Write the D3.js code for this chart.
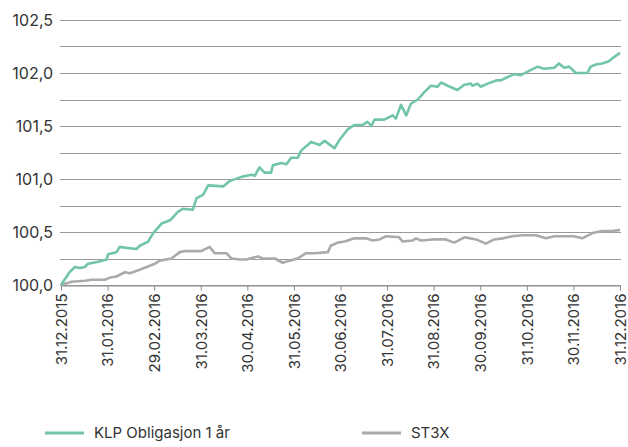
<!DOCTYPE html>
<html>
<head>
<meta charset="utf-8">
<script src="https://cdn.jsdelivr.net/npm/d3@7"></script>
<style>
  body { margin: 0; background: #fff; }
  text { font-family: Inter, "Open Sans", sans-serif; }
</style>
</head>
<body>
<div id="chart"></div>
<script>
// month ends shown on the x axis
var tickLabels = ["31.12.2015", "31.01.2016", "29.02.2016", "31.03.2016", "30.04.2016", "31.05.2016",
  "30.06.2016", "31.07.2016", "31.08.2016", "30.09.2016", "31.10.2016", "30.11.2016", "31.12.2016"];
var yTicks = [100.0, 100.5, 101.0, 101.5, 102.0, 102.5];
var seriesNames = ["KLP Obligasjon 1 år", "ST3X"];

// months since 31.12.2015 and index values
var klpMonths = [0, 0.19, 0.30, 0.41, 0.51, 0.58, 0.80, 0.98, 1.01, 1.19, 1.26, 1.41, 1.62, 1.69, 1.87, 1.98,
  2.16, 2.34, 2.51, 2.62, 2.83, 2.91, 3.05, 3.16, 3.48, 3.62, 3.87, 4.09, 4.16, 4.26, 4.37, 4.51, 4.55,
  4.73, 4.84, 4.94, 5.08, 5.16, 5.37, 5.55, 5.66, 5.87, 5.98, 6.16, 6.30, 6.48, 6.58, 6.66, 6.73, 6.94,
  7.12, 7.19, 7.30, 7.41, 7.51, 7.66, 7.80, 7.94, 8.08, 8.16, 8.30, 8.51, 8.66, 8.80, 8.83, 8.94, 9.01,
  9.16, 9.34, 9.44, 9.58, 9.73, 9.87, 10.05, 10.23, 10.37, 10.59, 10.69, 10.80, 10.91, 11.05, 11.16,
  11.30, 11.37, 11.48, 11.62, 11.76, 11.87, 12];
var klpValues = [100.0, 100.125, 100.17, 100.16, 100.17, 100.2, 100.22, 100.24, 100.29, 100.31, 100.36, 100.35,
  100.34, 100.37, 100.41, 100.49, 100.58, 100.61, 100.69, 100.72, 100.71, 100.82, 100.85, 100.94, 100.93,
  100.98, 101.02, 101.04, 101.03, 101.11, 101.06, 101.06, 101.13, 101.15, 101.14, 101.20, 101.20, 101.27,
  101.35, 101.32, 101.36, 101.29, 101.37, 101.47, 101.51, 101.51, 101.54, 101.50, 101.56, 101.56, 101.60,
  101.57, 101.70, 101.60, 101.71, 101.75, 101.82, 101.88, 101.87, 101.91, 101.88, 101.84, 101.89, 101.90,
  101.88, 101.90, 101.87, 101.90, 101.93, 101.93, 101.96, 101.99, 101.98, 102.02, 102.06, 102.04, 102.05,
  102.09, 102.05, 102.06, 102.00, 102.00, 102.00, 102.06, 102.08, 102.09, 102.11, 102.15, 102.19];

var st3xMonths = [0, 0.23, 0.51, 0.66, 0.94, 1.05, 1.19, 1.37, 1.48, 1.66, 1.84, 2.01, 2.12, 2.37, 2.55, 2.66,
  3.01, 3.19, 3.30, 3.55, 3.66, 3.84, 3.98, 4.23, 4.33, 4.59, 4.76, 4.91, 5.08, 5.26, 5.44, 5.73, 5.79,
  5.94, 6.09, 6.30, 6.55, 6.69, 6.84, 6.98, 7.26, 7.33, 7.55, 7.62, 7.73, 7.98, 8.26, 8.44, 8.66, 8.91,
  9.12, 9.30, 9.48, 9.69, 9.91, 10.19, 10.41, 10.59, 10.84, 11.01, 11.19, 11.41, 11.62, 11.84, 12];
var st3xValues = [100.0, 100.03, 100.04, 100.05, 100.05, 100.07, 100.08, 100.12, 100.11, 100.14, 100.17, 100.20,
  100.23, 100.25, 100.31, 100.32, 100.32, 100.36, 100.30, 100.30, 100.25, 100.24, 100.24, 100.27, 100.25,
  100.25, 100.21, 100.23, 100.25, 100.30, 100.30, 100.31, 100.37, 100.40, 100.41, 100.44, 100.44, 100.42,
  100.43, 100.46, 100.45, 100.41, 100.42, 100.44, 100.42, 100.43, 100.43, 100.40, 100.45, 100.43, 100.39,
  100.43, 100.44, 100.46, 100.47, 100.47, 100.44, 100.46, 100.46, 100.46, 100.44, 100.49, 100.51, 100.51, 100.52];

var colors = ["#72c5aa", "#aaaaaa"];

var w = 628;
var h = 447;
var margin = { top: 20, right: 8, bottom: 162, left: 61 };

var svg = d3.select("#chart").append("svg")
  .attr("width", w)
  .attr("height", h);

var xScale = d3.scaleLinear()
  .domain([0, 12])
  .range([margin.left, w - margin.right]);

var yScale = d3.scaleLinear()
  .domain([100, 102.5])
  .range([h - margin.bottom, margin.top]);

// horizontal grid every 0.25
var gridVals = d3.range(0, 11).map(function (i) { return 100 + i * 0.25; });
svg.append("g")
  .selectAll("line")
  .data(gridVals)
  .enter()
  .append("line")
  .attr("x1", margin.left - 1)
  .attr("x2", w - margin.right + 1)
  .attr("y1", function (d) { return Math.round(yScale(d)) + 0.5; })
  .attr("y2", function (d) { return Math.round(yScale(d)) + 0.5; })
  .attr("stroke", "#9a9a9a")
  .attr("stroke-width", 1);

// y labels
svg.append("g")
  .selectAll("text")
  .data(yTicks)
  .enter()
  .append("text")
  .attr("x", margin.left - 8)
  .attr("y", function (d) { return yScale(d); })
  .attr("dy", "0.35em")
  .attr("text-anchor", "end")
  .attr("font-size", 16)
  .attr("fill", "#333")
  .text(function (d) { return d3.format(".1f")(d).replace(".", ","); });

// x axis
var xAxis = d3.axisBottom(xScale)
  .tickValues(d3.range(0, 13))
  .tickSize(5)
  .tickFormat(function (d) { return tickLabels[d]; });

var gx = svg.append("g")
  .attr("transform", "translate(0," + (Math.round(yScale(100)) + 0.5) + ")")
  .call(xAxis);
gx.select(".domain").attr("stroke", "#8a8a8a");
gx.selectAll(".tick line").attr("stroke", "#8a8a8a");
gx.selectAll(".tick text")
  .attr("font-family", "Inter, sans-serif")
  .attr("font-size", 15)
  .attr("fill", "#333")
  .attr("text-anchor", "end")
  .attr("transform", "rotate(-90)")
  .attr("x", -8)
  .attr("y", 0)
  .attr("dy", "0.35em");

// lines
var line = d3.line()
  .x(function (d) { return xScale(d[0]); })
  .y(function (d) { return yScale(d[1]); });

var series = [
  d3.zip(klpMonths, klpValues),
  d3.zip(st3xMonths, st3xValues)
];

// draw gray first so teal sits on top
[1, 0].forEach(function (i) {
  svg.append("path")
    .datum(series[i])
    .attr("fill", "none")
    .attr("stroke", colors[i])
    .attr("stroke-width", 2.6)
    .attr("stroke-linejoin", "round")
    .attr("d", line);
});

// legend
var legendX = [45, 362];
var legend = svg.append("g")
  .selectAll("g")
  .data(seriesNames)
  .enter()
  .append("g")
  .attr("transform", function (d, i) { return "translate(" + legendX[i] + ",433)"; });

legend.append("line")
  .attr("x1", 0)
  .attr("x2", 39)
  .attr("stroke", function (d, i) { return colors[i]; })
  .attr("stroke-width", 3);

legend.append("text")
  .attr("x", 49)
  .attr("dy", "0.35em")
  .attr("font-family", "Roboto, sans-serif")
  .attr("font-size", 15)
  .attr("fill", "#333")
  .text(function (d) { return d; });
</script>
</body>
</html>
